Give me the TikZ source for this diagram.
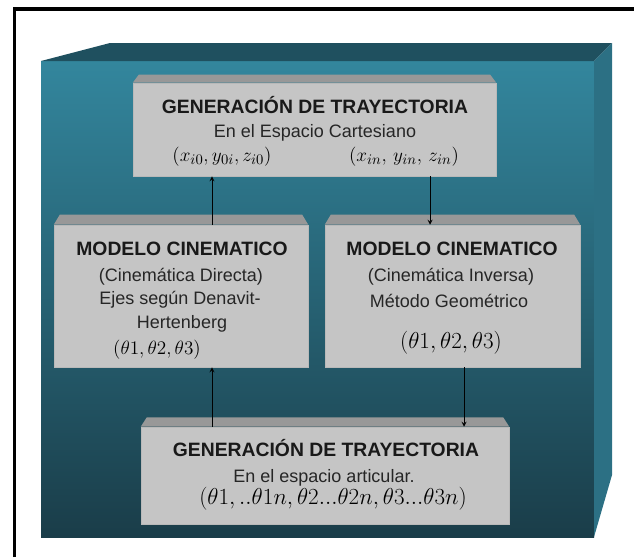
\documentclass[tikz,border=0pt]{standalone}
\usepackage{fontspec}
\setmainfont{Liberation Sans}
\usetikzlibrary{fit}
\tikzset{>=stealth}

\definecolor{tealclaro}{RGB}{51,134,157}
\definecolor{tealmedio}{RGB}{40,104,123}
\definecolor{tealoscuro}{RGB}{26,61,73}
\definecolor{tealtapa}{RGB}{31,80,95}
\definecolor{teallado}{RGB}{44,112,132}
\definecolor{grisfrente}{RGB}{197,197,197}
\definecolor{gristapa}{RGB}{152,152,152}

\tikzset{
 caja/.style={rectangle, fill=grisfrente, draw=gray!55, line width=0.4pt, inner sep=0pt},
 titulo/.style={font=\bfseries\fontsize{14.5}{17}\selectfont, anchor=base, text=black!90, inner sep=0pt},
 texto/.style={font=\fontsize{13.5}{16}\selectfont, anchor=base, text=black!85, inner sep=0pt},
 formula/.style={font=\fontsize{16}{19}\selectfont, anchor=base, inner sep=0pt},
 flecha/.style={->, line width=0.7pt},
}
% gray top face of a box
\newcommand\tapa[2]{\fill[gristapa] (#1.north west) -- ([xshift=4.5pt,yshift=#2]#1.north west) -- ([xshift=-4.5pt,yshift=#2]#1.north east) -- (#1.north east) -- cycle;}

\begin{document}
\begin{tikzpicture}[x=0.75pt,y=-0.75pt]
\useasboundingbox (0,0) rectangle (634,557);

\draw[line width=2.6pt] (14.5,557) -- (14.5,9) -- (634,9);

% teal block
\shade[top color=tealclaro, middle color=tealmedio, bottom color=tealoscuro] (41,61) rectangle (594,537);
\fill[tealtapa] (41,61) -- (110,43) -- (612,43) -- (594,61) -- cycle;
\fill[teallado] (594,61) -- (612,43) -- (612,475) -- (594,537) -- cycle;

% boxes
\node[caja, fit={(133,83) (496,176)}] (gct) {};
\tapa{gct}{6pt}
\node[caja, fit={(54,225) (308,367)}] (mcd) {};
\tapa{mcd}{7.5pt}
\node[caja, fit={(325,225) (580,367)}] (mci) {};
\tapa{mci}{7.5pt}
\node[caja, fit={(141,427) (509,524)}] (gea) {};
\tapa{gea}{7pt}

% texts
\node[titulo] (gct-tit) at (315,113) {GENERACIÓN DE TRAYECTORIA};
\node[texto] (gct-sub) at (315,137) {En el Espacio Cartesiano};
\node[formula, font=\fontsize{15}{18}\selectfont] (gct-xi0) at (222,161) {$(x_{i0}, y_{0i}, z_{i0})$};
\node[formula, font=\fontsize{15}{18}\selectfont] (gct-xin) at (404,161) {$(x_{in},\, y_{in},\, z_{in})$};

\node[titulo] (mcd-tit) at (182,255) {MODELO CINEMATICO};
\node[texto] (mcd-sub) at (181,281) {(Cinemática Directa)};
\node[texto] (mcd-eje) at (180,304) {Ejes según Denavit-};
\node[texto] (mcd-her) at (182,328) {Hertenberg};
\node[formula, font=\fontsize{15}{18}\selectfont] (mcd-th) at (157,354) {$(\theta1,\theta2,\theta3)$};

\node[titulo] (mci-tit) at (452,255) {MODELO CINEMATICO};
\node[texto] (mci-sub) at (451,281) {(Cinemática Inversa)};
\node[texto] (mci-met) at (449,307) {Método Geométrico};
\node[formula] (mci-th) at (451,348) {$(\theta1,\theta2,\theta3)$};

\node[titulo] (gea-tit) at (326,456) {GENERACIÓN DE TRAYECTORIA};
\node[texto] (gea-sub) at (324,482) {En el espacio articular.};
\node[formula] (gea-th) at (333,504) {$(\theta1,..\theta1n,\theta2...\theta2n,\theta3...\theta3n)$};

% arrows
\draw[flecha] (mcd.north -| 212,0) -- (gct.south -| 212,0);
\draw[flecha] (gct.south -| 430,0) -- (mci.north -| 430,0);
\draw[flecha] (gea.north -| 212,0) -- (mcd.south -| 212,0);
\draw[flecha] (mci.south -| 464,0) -- (gea.north -| 464,0);
\end{tikzpicture}
\end{document}
